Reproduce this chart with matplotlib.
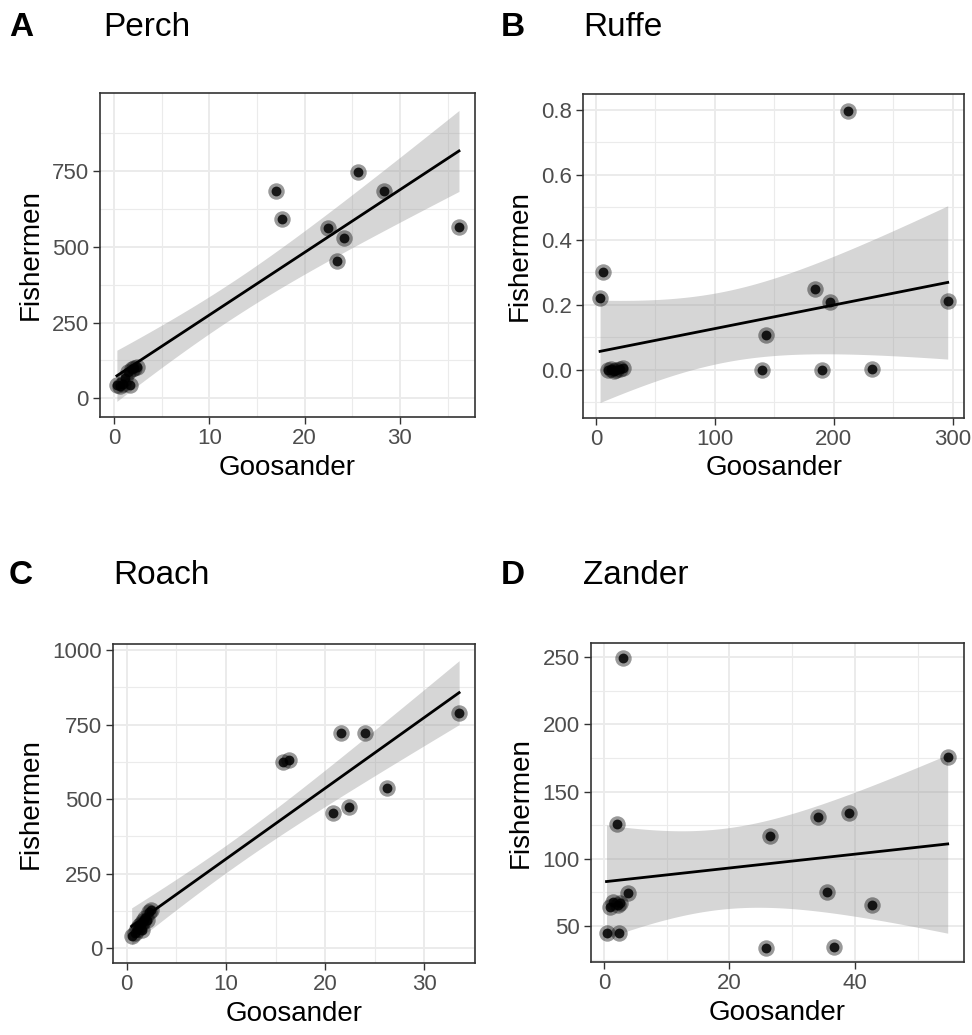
import math
import numpy as np
import matplotlib
matplotlib.use("Agg")
import matplotlib.pyplot as plt

plt.rcParams['font.family'] = ['Liberation Sans', 'DejaVu Sans']

# ---------------- data ----------------
perch_x = [0.3, 0.6, 0.9, 1.2, 1.7, 1.5, 1.9, 2.1, 2.4, 16.97, 17.6, 25.6, 28.3, 22.5, 24.1, 23.4, 36.2]
perch_y = [44, 40, 46, 66, 44, 88, 95, 100, 104, 685, 591, 746, 685, 561, 528, 453, 565]

ruffe_x = [3.4, 6.2, 10, 12.5, 15, 17, 20, 23, 140, 142.7, 184, 190.4, 197, 211.7, 232, 295.8]
ruffe_y = [0.22, 0.302, 0.0, 0.004, -0.003, 0.0, 0.003, 0.005, 0.0, 0.108, 0.248, 0.0, 0.208, 0.798, 0.002, 0.213]

roach_x = [0.5, 0.8, 1.0, 1.2, 1.4, 1.6, 1.8, 2.0, 2.2, 2.4, 1.5, 15.8, 16.4, 21.6, 24.0, 20.8, 22.4, 26.2, 33.5]
roach_y = [42, 50, 65, 75, 80, 90, 100, 95, 120, 130, 60, 625, 631, 720, 720, 454, 472, 536, 787]

zander_x = [0.4, 2.4, 0.96, 1.5, 2.3, 2.6, 3.9, 2.0, 3.1, 25.8, 26.5, 34.2, 35.5, 36.7, 39.1, 42.7, 54.8]
zander_y = [44.6, 44.6, 64.4, 68, 65.6, 67, 74.3, 126, 249, 33.4, 117, 131.3, 75.5, 34.6, 133.8, 65.4, 176]

panels = [
    dict(tag="A", title="Perch", x=perch_x, y=perch_y,
         xlim=(-1.47, 37.88), ylim=(-62, 1008),
         xmaj=[0, 10, 20, 30], xmin=[5, 15, 25, 35],
         ymaj=[0, 250, 500, 750], ymin=[125, 375, 625, 875],
         ylab=["0", "250", "500", "750"],
         rect=[100, 93, 475, 417], tagpos=(9, 36), titlepos=(103, 36)),
    dict(tag="B", title="Ruffe", x=ruffe_x, y=ruffe_y,
         xlim=(-10.7, 309.5), ylim=(-0.147, 0.848),
         xmaj=[0, 100, 200, 300], xmin=[50, 150, 250],
         ymaj=[0, 0.2, 0.4, 0.6, 0.8], ymin=[-0.1, 0.1, 0.3, 0.5, 0.7],
         ylab=["0.0", "0.2", "0.4", "0.6", "0.8"],
         rect=[583.3, 94.3, 964, 417.7], tagpos=(501, 36), titlepos=(583, 36)),
    dict(tag="C", title="Roach", x=roach_x, y=roach_y,
         xlim=(-1.35, 35.1), ylim=(-50.3, 1019.8),
         xmaj=[0, 10, 20, 30], xmin=[5, 15, 25, 35],
         ymaj=[0, 250, 500, 750, 1000], ymin=[125, 375, 625, 875],
         ylab=["0", "250", "500", "750", "1000"],
         rect=[113.3, 644, 475, 963.3], tagpos=(9, 584), titlepos=(113, 584)),
    dict(tag="D", title="Zander", x=zander_x, y=zander_y,
         xlim=(-2.12, 57.4), ylim=(23, 260.3),
         xmaj=[0, 20, 40], xmin=[10, 30, 50],
         ymaj=[50, 100, 150, 200, 250], ymin=[25, 75, 125, 175, 225],
         ylab=["50", "100", "150", "200", "250"],
         rect=[590.7, 643.3, 964, 962.3], tagpos=(501, 584), titlepos=(583, 584)),
]

W, H = 972, 1035


def t_quantile(p, df):
    # numerical inversion of the Student t CDF
    c = math.gamma((df + 1) / 2) / (math.sqrt(df * math.pi) * math.gamma(df / 2))
    grid = np.linspace(0, 10, 20001)
    pdf = c * (1 + grid ** 2 / df) ** (-(df + 1) / 2)
    cdf = 0.5 + np.concatenate([[0], np.cumsum((pdf[1:] + pdf[:-1]) / 2 * np.diff(grid))])
    return float(np.interp(p, cdf, grid))


fig = plt.figure(figsize=(W / 100, H / 100), dpi=100)

for p in panels:
    l, t, r, b = p["rect"]
    ax = fig.add_axes([l / W, 1 - b / H, (r - l) / W, (b - t) / H])
    x = np.array(p["x"], float)
    y = np.array(p["y"], float)

    # linear model fit with 95% confidence band
    n = len(x)
    slope, intercept = np.polyfit(x, y, 1)
    xs = np.linspace(x.min(), x.max(), 200)
    yhat = intercept + slope * xs
    resid = y - (intercept + slope * x)
    s = math.sqrt(np.sum(resid ** 2) / (n - 2))
    sxx = np.sum((x - x.mean()) ** 2)
    se = s * np.sqrt(1 / n + (xs - x.mean()) ** 2 / sxx)
    tq = t_quantile(0.975, n - 2)

    ax.set_facecolor("white")
    for v in p["xmin"]:
        ax.axvline(v, color="#EBEBEB", lw=0.8, zorder=0)
    for v in p["ymin"]:
        ax.axhline(v, color="#EBEBEB", lw=0.8, zorder=0)
    for v in p["xmaj"]:
        ax.axvline(v, color="#EBEBEB", lw=1.4, zorder=0)
    for v in p["ymaj"]:
        ax.axhline(v, color="#EBEBEB", lw=1.4, zorder=0)

    ax.fill_between(xs, yhat - tq * se, yhat + tq * se, color="#999999", alpha=0.4,
                    lw=0, zorder=1)
    ax.scatter(x, y, s=140, color="black", alpha=0.40, lw=0, zorder=2)
    ax.scatter(x, y, s=50, color="black", alpha=0.85, lw=0, zorder=3)
    ax.plot(xs, yhat, color="black", lw=2.0, zorder=4)

    ax.set_xlim(*p["xlim"])
    ax.set_ylim(*p["ylim"])
    ax.set_xticks(p["xmaj"])
    ax.set_xticklabels([str(v) for v in p["xmaj"]])
    ax.set_yticks(p["ymaj"])
    ax.set_yticklabels(p["ylab"])
    ax.tick_params(axis="both", colors="#333333", labelcolor="#4D4D4D", labelsize=16,
                   length=5, width=1.0, pad=3)
    for sp in ax.spines.values():
        sp.set_color("#333333")
        sp.set_linewidth(1.2)
    ax.set_xlabel("Goosander", fontsize=20, color="black", labelpad=4)
    ax.set_ylabel("Fishermen", fontsize=20, color="black", labelpad=6)

    tx, ty = p["tagpos"]
    fig.text(tx / W, 1 - ty / H, p["tag"], fontsize=24, fontweight="bold",
             ha="left", va="baseline")
    tx, ty = p["titlepos"]
    fig.text(tx / W, 1 - ty / H, p["title"], fontsize=24, ha="left", va="baseline")

fig.savefig("out.png", dpi=100)
